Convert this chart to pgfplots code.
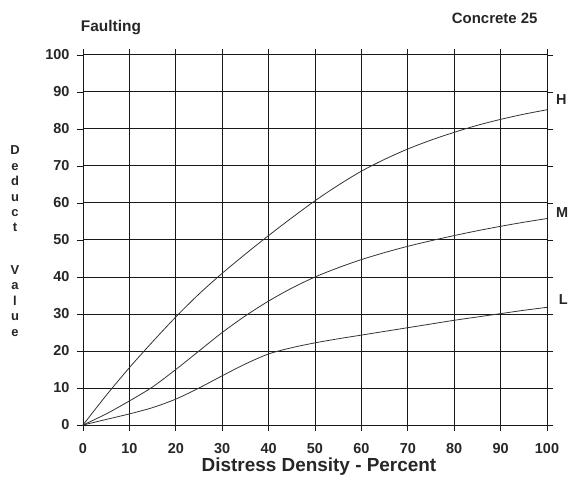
\documentclass[border=0pt]{standalone}
\usepackage{pgfplots}
\pgfplotsset{compat=1.18}
\usepackage{fontspec}
\setmainfont{Liberation Sans}
\begin{document}
\begin{tikzpicture}
\useasboundingbox (-83bp,-62bp) rectangle (490bp,425bp);
\begin{axis}[
  at={(0,0)}, anchor=south west,
  scale only axis, width=464bp, height=370bp,
  xmin=0, xmax=100, ymin=0, ymax=100,
  xtick={0,10,...,100}, ytick={0,10,...,100},
  grid=major,
  major grid style={black!90, line width=1pt},
  axis line style={black!90, line width=1pt},
  tick align=outside, major tick length=6bp,
  tick style={black!90, line width=0.8pt},
  /pgf/number format/assume math mode=true,
  ticklabel style={font=\fontsize{14.5}{16}\selectfont\bfseries, text=black!85},
  xticklabel style={yshift=-9bp},
  yticklabel style={xshift=-4bp},
  clip=false,
]
\addplot[black!80, line width=0.8pt, smooth] coordinates {
(0,0) (5,8) (10,15.5) (15,22.5) (20,29.2) (25,35.4) (30,41) (35,46.2) (40,51.2) (45,56) (50,60.6) (55,64.8) (60,68.6) (65,71.8) (70,74.6) (75,77) (80,79.1) (85,81) (90,82.6) (95,84) (100,85.2)};
\addplot[black!80, line width=0.8pt, smooth] coordinates {
(0,0) (5,3) (10,6.5) (15,10.3) (20,15) (25,20) (30,25) (35,29.5) (40,33.5) (45,37) (50,40) (55,42.5) (60,44.7) (65,46.6) (70,48.3) (75,49.8) (80,51.2) (85,52.5) (90,53.7) (95,54.8) (100,55.8)};
\addplot[black!80, line width=0.8pt, smooth] coordinates {
(0,0) (5,1.5) (10,3) (15,4.7) (20,7) (25,10) (30,13.3) (35,16.5) (40,19.2) (45,20.9) (50,22.2) (55,23.3) (60,24.3) (65,25.3) (70,26.3) (75,27.3) (80,28.3) (85,29.2) (90,30.1) (95,31) (100,31.8)};
\node[anchor=west, font=\fontsize{14.5}{16}\selectfont\bfseries, text=black!85] at (axis cs:101.2,88) {H};
\node[anchor=west, font=\fontsize{14.5}{16}\selectfont\bfseries, text=black!85] at (axis cs:101.2,57.5) {M};
\node[anchor=west, font=\fontsize{14.5}{16}\selectfont\bfseries, text=black!85] at (axis cs:101.8,34) {L};
\end{axis}
\node[anchor=center, font=\fontsize{15.5}{17}\selectfont\bfseries, text=black!85] at (28bp,397bp) {Faulting};
\node[anchor=east, font=\fontsize{15}{17}\selectfont\bfseries, text=black!85] at (458bp,407bp) {Concrete 25};
\node[anchor=center, font=\fontsize{19}{21}\selectfont\bfseries, text=black!85] at (236bp,-42bp) {Distress Density - Percent};
\node[align=center, font=\fontsize{13}{15.5}\selectfont\bfseries, text=black!85] at (-68bp,184bp) {D\\e\\d\\u\\c\\t\\[27bp]V\\a\\l\\u\\e};
\end{tikzpicture}
\end{document}
